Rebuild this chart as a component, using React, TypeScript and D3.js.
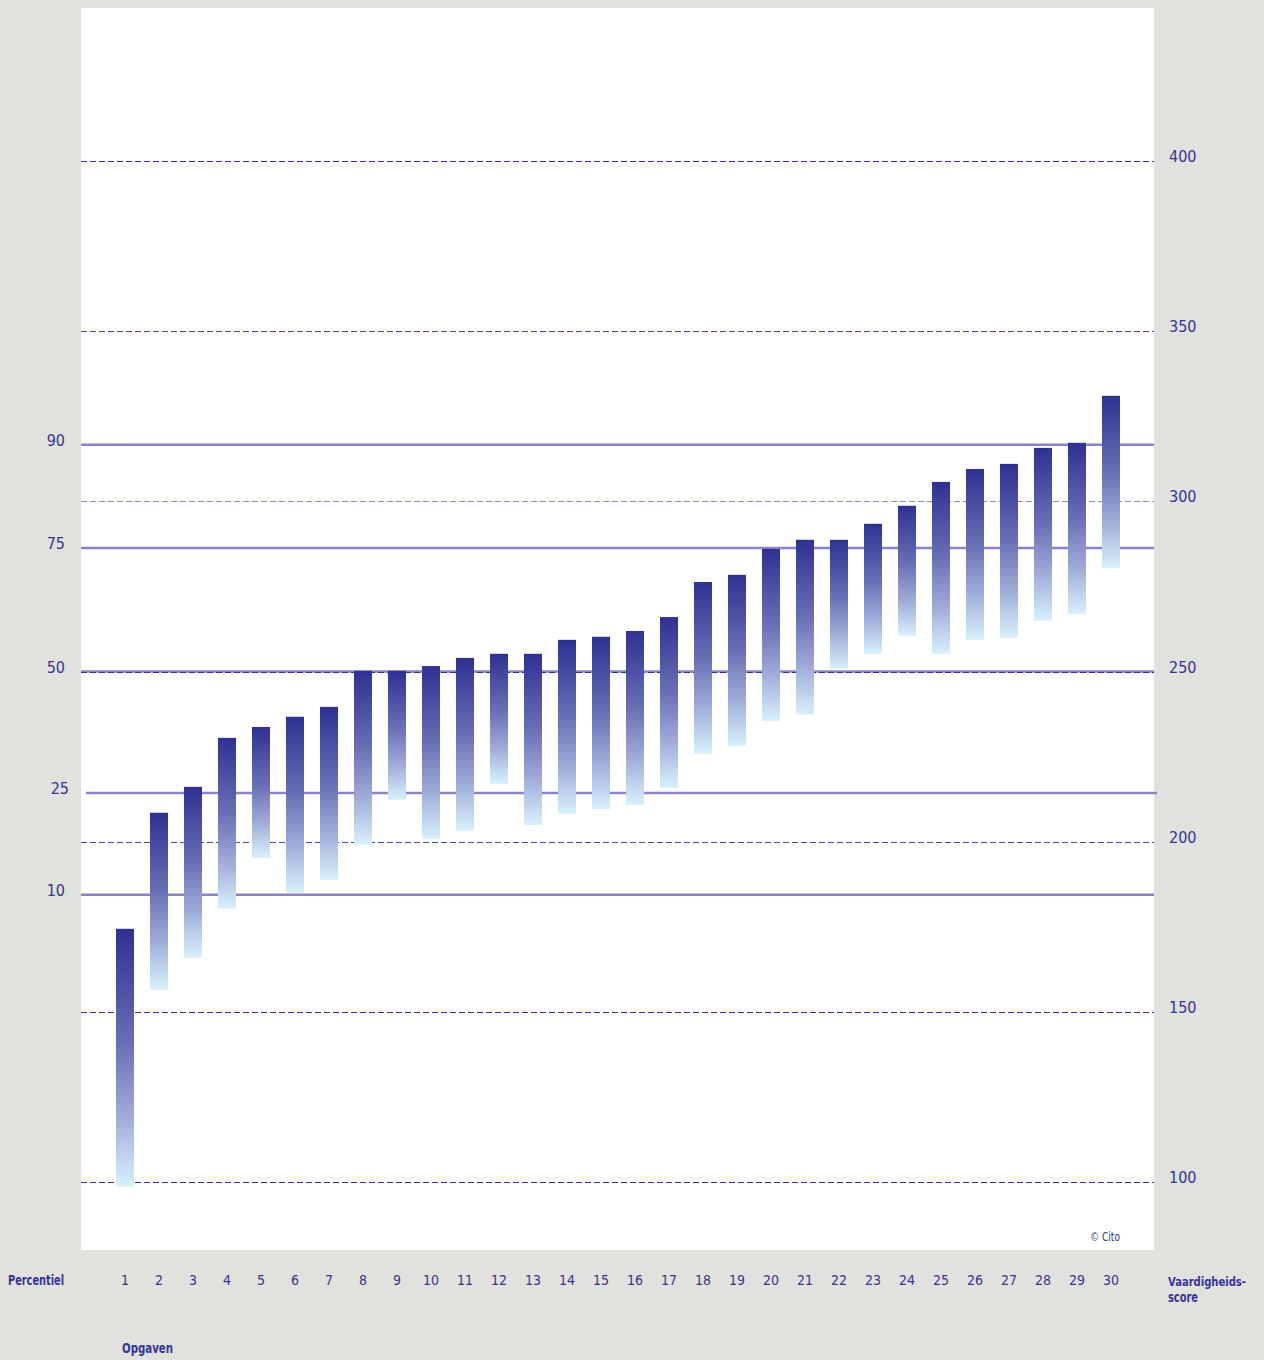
import React from "react";
import * as d3 from "d3";

const items = d3.range(1, 31);
const barTop = [174.4, 208.5, 216.1, 230.5, 233.7, 236.7, 239.6, 250.2, 250.2, 251.6, 254.0, 255.2, 255.2, 259.3, 260.2, 261.9, 266.0, 276.3, 278.4, 286.0, 288.7, 288.7, 293.4, 298.7, 305.7, 309.5, 311.0, 315.7, 317.2, 331.0];
const barBottom = [98.6, 156.5, 165.9, 180.3, 195.2, 185.0, 188.8, 199.1, 212.3, 200.8, 203.2, 217.0, 204.9, 208.2, 209.6, 210.8, 215.8, 225.8, 228.1, 235.5, 237.3, 250.8, 255.2, 260.5, 255.2, 259.3, 259.9, 264.9, 266.9, 280.4];
const scoreTicks = [100, 150, 200, 250, 300, 350, 400];
const percentileLabels = ["90", "75", "50", "25", "10"];
const percentileScores = [316.6, 286.3, 250, 214.3, 184.4];

const FONT = "'Liberation Sans Narrow', 'DejaVu Sans Condensed', 'Roboto', sans-serif";
const TEXT = "#34349a";

export default function App() {
  const W = 1264, H = 1360;
  const plotL = 81, plotR = 1154, plotT = 8, plotB = 1250;
  const y = d3.scaleLinear().domain([100, 400]).range([1182, 161]);
  const x = d3.scaleLinear().domain([1, 30]).range([125, 1111]);
  const bw = 18;
  const dashColor = (v: number) =>
    v === 300 ? "#8f8ad0" : v === 200 || v === 350 ? "#4a48b4" : "#2e2eaa";

  return (
    <svg width={W} height={H} style={{ position: "absolute", left: 0, top: 0, fontFamily: FONT }}>
      <defs>
        <linearGradient id="barGrad" x1="0" y1="0" x2="0" y2="1">
          <stop offset="0%" stopColor="#2e3192" />
          <stop offset="45%" stopColor="#6a70b6" />
          <stop offset="75%" stopColor="#a3b1dc" />
          <stop offset="100%" stopColor="#d8f1fb" />
        </linearGradient>
      </defs>
      <rect x={0} y={0} width={W} height={H} fill="#e1e1dd" />
      <rect x={plotL} y={plotT} width={plotR - plotL} height={plotB - plotT} fill="#ffffff" />

      {percentileScores.map((s, i) => (
        <line key={"p" + i} x1={i === 3 ? 86 : plotL} x2={i === 3 ? 1157 : plotR} y1={y(s)} y2={y(s)} stroke="#8a84c6" strokeWidth={2.5} />
      ))}
      {scoreTicks.map((v) => (
        <line key={"d" + v} x1={plotL} x2={plotR} y1={Math.round(y(v)) + 0.5} y2={Math.round(y(v)) + 0.5} stroke={dashColor(v)} strokeWidth={1} strokeDasharray="6,3" />
      ))}

      {items.map((it, i) => (
        <rect key={"b" + it} x={x(it) - bw / 2} y={y(barTop[i])} width={bw} height={y(barBottom[i]) - y(barTop[i])} fill="url(#barGrad)" />
      ))}

      {percentileLabels.map((l, i) => (
        <text key={"pl" + l} x={i === 3 ? 69 : 65} y={y(percentileScores[i]) + 1} textAnchor="end" fontSize={16} fill={TEXT}>{l}</text>
      ))}
      {scoreTicks.map((v) => (
        <text key={"sl" + v} x={1169} y={y(v) + 1} fontSize={16} fill={TEXT}>{v}</text>
      ))}
      {items.map((it) => (
        <text key={"xl" + it} x={x(it)} y={1285} textAnchor="middle" fontSize={14} fill={TEXT}>{it}</text>
      ))}
      <text x={8} y={1285} fontSize={14} fontWeight="bold" fill={TEXT} textLength={56} lengthAdjust="spacingAndGlyphs">Percentiel</text>
      <text x={1168} y={1286} fontSize={13} fontWeight="bold" fill={TEXT} textLength={78} lengthAdjust="spacingAndGlyphs">Vaardigheids-</text>
      <text x={1168} y={1302} fontSize={14} fontWeight="bold" fill={TEXT} textLength={30} lengthAdjust="spacingAndGlyphs">score</text>
      <text x={122} y={1353} fontSize={14} fontWeight="bold" fill={TEXT} textLength={51} lengthAdjust="spacingAndGlyphs">Opgaven</text>
      <text x={1090} y={1241} fontSize={12} fill={TEXT} textLength={30} lengthAdjust="spacingAndGlyphs">© Cito</text>
    </svg>
  );
}
